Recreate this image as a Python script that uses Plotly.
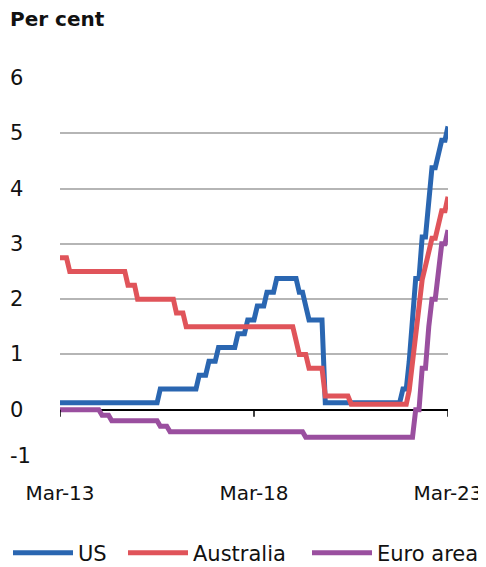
import plotly.graph_objects as go
import pandas as pd

# Monthly observations, Mar-2013 .. Mar-2023 (121 months), end of month, per cent
months = pd.date_range("2013-03-01", "2023-03-01", freq="MS")

us = ([0.125] * 31 + [0.375] * 12 + [0.625] * 3 + [0.875] * 3 + [1.125] * 6 +
      [1.375] * 3 + [1.625] * 3 + [1.875] * 3 + [2.125] * 3 + [2.375] * 7 +
      [2.125] * 2 + [1.875] + [1.625] * 5 + [0.125] * 24 + [0.375] * 2 +
      [0.875, 1.625, 2.375, 2.375, 3.125, 3.125, 3.875, 4.375, 4.375, 4.625,
       4.875, 4.875, 5.125])

australia = ([2.75] * 3 + [2.5] * 18 + [2.25] * 3 + [2.0] * 12 + [1.75] * 3 +
             [1.5] * 34 + [1.25] + [1.0] * 3 + [0.75] * 5 + [0.25] * 8 +
             [0.1] * 18 +
             [0.35, 0.85, 1.35, 1.85, 2.35, 2.6, 2.85, 3.1, 3.1, 3.35, 3.6,
              3.6, 3.85])

euro_area = ([0.0] * 13 + [-0.1] * 3 + [-0.2] * 15 + [-0.3] * 3 + [-0.4] * 42 +
             [-0.5] * 34 +
             [0.0, 0.0, 0.75, 0.75, 1.5, 2.0, 2.0, 2.5, 3.0, 3.0, 3.25])

series_names = ["US", "Australia", "Euro area"]
series_values = [us, australia, euro_area]
series_colors = ["#2a66b1", "#e0545a", "#9a4f9f"]

y_ticks = [-1, 0, 1, 2, 3, 4, 5, 6]
y_tick_labels = ["-1", "0", "1", "2", "3", "4", "5", "6"]
x_ticks = ["2013-03-01", "2018-03-01", "2023-03-01"]
x_tick_labels = ["Mar-13", "Mar-18", "Mar-23"]

FONT = "DejaVu Sans"
legend_ids = ["legend", "legend2", "legend3"]

fig = go.Figure()
for name, vals, col, lg in zip(series_names, series_values, series_colors,
                               legend_ids):
    fig.add_trace(go.Scatter(x=months, y=vals, name=name, mode="lines",
                             legend=lg, line=dict(color=col, width=5)))

# small downward tick marks on the zero axis line
shapes = []
for t in x_ticks:
    shapes.append(dict(type="line", xref="x", yref="y", x0=t, x1=t,
                       ysizemode="pixel", yanchor=0, y0=0, y1=-7,
                       line=dict(color="black", width=1.5)))

# page has an 8px body margin; figure is sized to fit the 486x567 window
PLOT_W = 388
def px_x(p):
    return (p - 60) / PLOT_W

annotations = [dict(text="<b>Per cent</b>", xref="paper", yref="paper",
                    x=px_x(8), y=1.152, xanchor="left", yanchor="middle",
                    showarrow=False, font=dict(size=20, family=FONT))]
# left-aligned y-axis labels
for v, lab in zip(y_ticks, y_tick_labels):
    annotations.append(dict(text=lab, xref="paper", yref="y", x=px_x(8), y=v,
                            xanchor="left", yanchor="middle", showarrow=False,
                            yshift=9 if v == -1 else 0,
                            font=dict(size=21, family=FONT, color="#111111")))

legend_common = dict(orientation="h", xanchor="left", y=-0.175,
                     yanchor="top", font=dict(size=21, family=FONT),
                     itemwidth=60, bgcolor="rgba(0,0,0,0)")

fig.update_layout(
    width=478, height=559,
    margin=dict(l=52, r=38, t=70, b=102, autoexpand=False),
    paper_bgcolor="white", plot_bgcolor="white",
    font=dict(family=FONT, size=21, color="#111111"),
    showlegend=True,
    legend=dict(x=px_x(8), **legend_common),
    legend2=dict(x=px_x(123), **legend_common),
    legend3=dict(x=px_x(307), **legend_common),
    shapes=shapes,
    annotations=annotations,
)
fig.update_xaxes(type="date", range=["2013-03-01", "2023-03-01"],
                 tickvals=x_ticks, ticktext=x_tick_labels, automargin=False,
                 showgrid=False, showline=False, ticks="",
                 tickfont=dict(size=20, family=FONT),
                 ticklabelstandoff=14, zeroline=False)
fig.update_yaxes(range=[-1, 6], tickvals=y_ticks, showgrid=True,
                 automargin=False, showticklabels=False,
                 gridcolor="#b5b5b5", gridwidth=1.5, zeroline=True,
                 zerolinecolor="black", zerolinewidth=1.5, showline=False,
                 ticks="")

fig.write_html("out.html")
